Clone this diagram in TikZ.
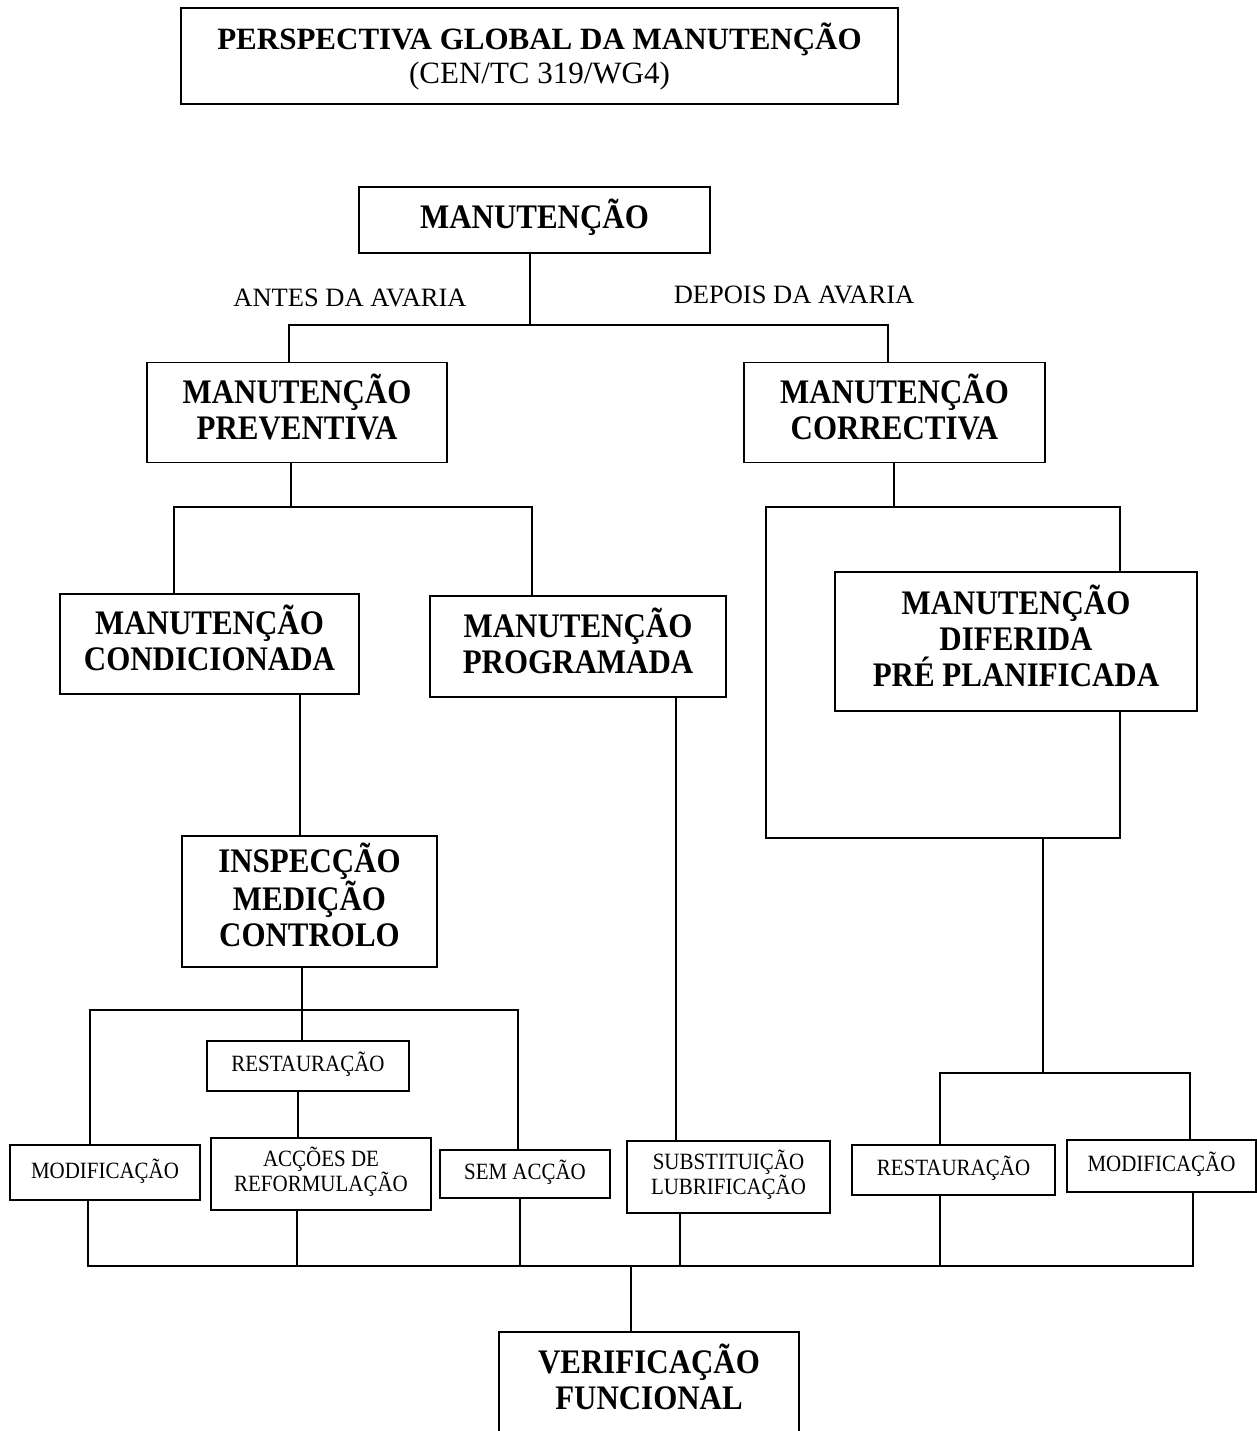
\documentclass[tikz,border=0pt]{standalone}
\usepackage{fontspec}
\setmainfont{Liberation Serif}
\newfontfamily\condfont[FakeStretch=0.9]{Liberation Serif}
\usetikzlibrary{calc}
\tikzset{
  box/.style={draw, line width=1.5pt, align=center, inner sep=0pt},
  big/.style={font=\condfont\fontsize{34.4}{36}\selectfont\bfseries, text height=22.8pt, text depth=5pt},
  bigtwo/.style={big, text height=58.8pt},
  bigthree/.style={big, text height=94.8pt},
  small/.style={font=\condfont\fontsize{23.3}{24}\selectfont, text height=15.4pt, text depth=4pt},
  smalltwo/.style={small, text height=39.4pt},
  lbl/.style={font=\fontsize{26.5}{30}\selectfont},
  conn/.style={line width=1.5pt}
}
\begin{document}
\begin{tikzpicture}[x=1pt, y=-1pt]
\useasboundingbox (0,0) rectangle (1257,1431);
\clip (0,0) rectangle (1257,1431);
\fill[white] (0,0) rectangle (1257,1431);

% title
\node[box, minimum width=717pt, minimum height=96pt, font=\fontsize{31}{34}\selectfont]
  (title) at (539.5,56) {\textbf{PERSPECTIVA GLOBAL DA MANUTENÇÃO}\\(CEN/TC 319/WG4)};

% main hierarchy
\node[box, big, minimum width=351pt, minimum height=66pt] (man) at (534.5,220) {MANUTENÇÃO};
\node[box, bigtwo, minimum width=300pt, minimum height=100pt] (prev) at (297,412.5) {MANUTENÇÃO\\PREVENTIVA};
\node[box, bigtwo, minimum width=301pt, minimum height=100pt] (corr) at (894.5,412.5) {MANUTENÇÃO\\CORRECTIVA};
\node[box, bigtwo, minimum width=299pt, minimum height=100pt] (cond) at (209.5,644) {MANUTENÇÃO\\CONDICIONADA};
\node[box, bigtwo, minimum width=296pt, minimum height=101pt] (prog) at (578,646.5) {MANUTENÇÃO\\PROGRAMADA};
\node[box, bigthree, minimum width=362pt, minimum height=139pt] (dif) at (1016,641.5) {MANUTENÇÃO\\DIFERIDA\\PRÉ PLANIFICADA};
\node[box, bigthree, minimum width=255pt, minimum height=131pt] (insp) at (309.5,901.5) {INSPECÇÃO\\MEDIÇÃO\\CONTROLO};

% branch labels
\node[lbl] (antes) at (350,298) {ANTES DA AVARIA};
\node[lbl] (depois) at (794,295) {DEPOIS DA AVARIA};

% action boxes
\node[box, small, minimum width=202pt, minimum height=50pt] (rest1) at (308,1066) {RESTAURAÇÃO};
\node[box, small, minimum width=190pt, minimum height=55pt] (mod1) at (105,1172.5) {MODIFICAÇÃO};
\node[box, smalltwo, minimum width=220pt, minimum height=72pt] (acc) at (321,1174) {ACÇÕES DE\\REFORMULAÇÃO};
\node[box, small, minimum width=170pt, minimum height=48pt] (sem) at (525,1174) {SEM ACÇÃO};
\node[box, smalltwo, minimum width=203pt, minimum height=72pt] (subs) at (728.5,1177) {SUBSTITUIÇÃO\\LUBRIFICAÇÃO};
\node[box, small, minimum width=203pt, minimum height=50pt] (rest2) at (953.5,1170) {RESTAURAÇÃO};
\node[box, small, minimum width=189pt, minimum height=52pt] (mod2) at (1161.5,1166) {MODIFICAÇÃO};

% final check box (runs past the lower edge)
\node[bigtwo, text depth=0pt, align=center, inner sep=0pt, minimum width=300pt, minimum height=96pt] (verif) at (649,1380) {VERIFICAÇÃO\\FUNCIONAL};
\draw[line width=1.5pt] ([yshift=-40pt]verif.south west) -- (verif.north west) -- (verif.north east) -- ([yshift=-40pt]verif.south east);

% junction points
\coordinate (b1) at (530,325);
\coordinate (b2) at (291,507);
\coordinate (b3) at (894,507);
\coordinate (bl) at (766,507);
\coordinate (bb) at (1120,838);
\coordinate (b4) at (1043,838);
\coordinate (b5) at (1043,1073);
\coordinate (b6) at (302,1010);
\coordinate (b7) at (631,1266);

% connectors
\draw[conn] (b1 |- man.south) -- (b1);
\draw[conn] ([xshift=-8pt]prev.north) |- (b1) -| ([xshift=-6.5pt]corr.north);

\draw[conn] (b2 |- prev.south) -- (b2);
\draw[conn] ([xshift=-35.5pt]cond.north) |- (b2) -| ([xshift=-46pt]prog.north);

\draw[conn] (b3 |- corr.south) -- (b3);
\draw[conn] ([xshift=104pt]dif.north) |- (bl) |- (bb) -- ([xshift=104pt]dif.south);
\draw[conn] (b4) -- (b5);
\draw[conn] ([xshift=-13.5pt]rest2.north) |- (b5) -| ([xshift=28.5pt]mod2.north);

\draw[conn] ([xshift=90.5pt]cond.south) -- ([xshift=-9.5pt]insp.north);
\draw[conn] (b6 |- insp.south) -- (b6);
\draw[conn] ([xshift=-15pt]mod1.north) |- (b6) -| ([xshift=-7pt]sem.north);
\draw[conn] (b6) -- (b6 |- rest1.north);
\draw[conn] ([xshift=-10pt]rest1.south) -- ([xshift=-23pt]acc.north);

\draw[conn] ([xshift=98pt]prog.south) -- ([xshift=-52.5pt]subs.north);

\draw[conn] ([xshift=-17pt]mod1.south) |- (b7);
\draw[conn] ([xshift=-24pt]acc.south) |- (b7);
\draw[conn] ([xshift=-5pt]sem.south) |- (b7);
\draw[conn] ([xshift=-48.5pt]subs.south) |- (b7);
\draw[conn] ([xshift=-13.5pt]rest2.south) |- (b7);
\draw[conn] ([xshift=31.5pt]mod2.south) |- (b7);
\draw[conn] (b7) -- ([xshift=-18pt]verif.north);
\end{tikzpicture}
\end{document}
